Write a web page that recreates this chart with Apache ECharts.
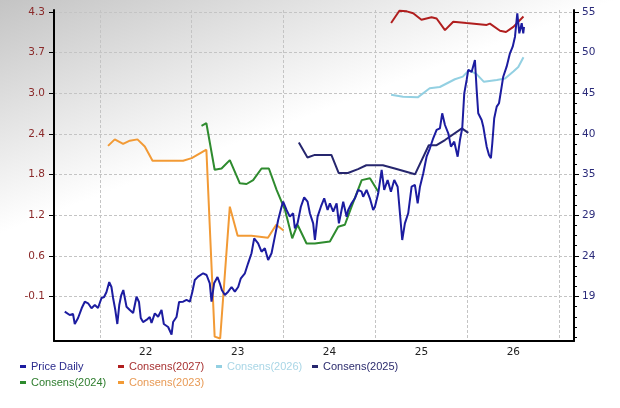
<!DOCTYPE html>
<html><head><meta charset="utf-8">
<script src="https://cdn.jsdelivr.net/npm/echarts@6/dist/echarts.min.js"></script>
<style>html,body{margin:0;padding:0;background:#fff}#c{width:620px;height:408px}</style>
</head><body><div id="c"></div>
<script>
// x axis: decimal years
const xTickYears = [2022, 2023, 2024, 2025, 2026, 2027];
const xLabelYears = [2022.5, 2023.5, 2024.5, 2025.5, 2026.5];
const xLabels = ['22', '23', '24', '25', '26'];
// left axis (EPS consensus)
const leftTickValues = [-0.1, 0.5286, 1.1571, 1.7857, 2.4143, 3.0429, 3.6714, 4.3];
const leftTickLabels = ['-0.1', '0.6', '1.2', '1.8', '2.4', '3.0', '3.7', '4.3'];
// right axis (price)
const rightTickValues = [19, 24.143, 29.286, 34.429, 39.571, 44.714, 49.857, 55];
const rightTickLabels = ['19', '24', '29', '35', '40', '45', '50', '55'];

const seriesNames = ['Price Daily', 'Consens(2027)', 'Consens(2026)', 'Consens(2025)', 'Consens(2024)', 'Consens(2023)'];

const priceDaily = [[2021.619,17.08],[2021.673,16.66],[2021.709,16.79],[2021.728,15.52],[2021.764,16.28],[2021.804,17.54],[2021.837,18.34],[2021.873,18.14],[2021.910,17.51],[2021.946,17.92],[2021.981,17.54],[2022.019,18.81],[2022.047,18.94],[2022.073,19.57],[2022.103,20.83],[2022.127,20.20],[2022.145,18.81],[2022.169,17.29],[2022.191,15.52],[2022.212,17.92],[2022.234,19.19],[2022.256,19.82],[2022.291,17.71],[2022.327,17.29],[2022.363,16.91],[2022.400,18.97],[2022.427,18.30],[2022.446,16.28],[2022.471,15.77],[2022.508,16.03],[2022.544,16.41],[2022.563,15.65],[2022.599,16.87],[2022.635,16.44],[2022.672,17.29],[2022.697,15.52],[2022.744,15.14],[2022.781,14.19],[2022.798,15.77],[2022.835,16.41],[2022.863,18.30],[2022.907,18.34],[2022.944,18.56],[2022.980,18.34],[2023.007,19.57],[2023.034,21.09],[2023.070,21.51],[2023.125,21.94],[2023.162,21.72],[2023.197,20.67],[2023.216,18.34],[2023.244,20.67],[2023.281,21.47],[2023.306,20.67],[2023.328,19.82],[2023.361,19.19],[2023.397,19.61],[2023.434,20.20],[2023.470,19.61],[2023.506,20.20],[2023.535,21.30],[2023.579,21.94],[2023.614,23.20],[2023.651,24.47],[2023.680,26.36],[2023.723,25.73],[2023.760,24.67],[2023.796,25.10],[2023.832,23.62],[2023.869,24.47],[2023.905,26.57],[2023.941,28.68],[2023.978,30.36],[2023.995,31.00],[2024.032,29.95],[2024.068,29.10],[2024.104,29.53],[2024.123,27.63],[2024.152,28.26],[2024.188,30.36],[2024.224,31.55],[2024.261,31.00],[2024.286,29.53],[2024.322,28.26],[2024.341,26.15],[2024.370,29.10],[2024.406,30.36],[2024.442,31.43],[2024.479,29.95],[2024.504,30.79],[2024.540,29.73],[2024.577,30.79],[2024.602,28.26],[2024.631,29.95],[2024.649,31.00],[2024.686,29.10],[2024.703,29.95],[2024.740,30.79],[2024.776,31.43],[2024.812,32.48],[2024.849,32.26],[2024.866,31.63],[2024.903,32.48],[2024.939,31.43],[2024.975,29.95],[2024.994,30.36],[2025.030,32.06],[2025.067,35.01],[2025.095,32.48],[2025.132,33.74],[2025.168,32.26],[2025.204,33.74],[2025.241,32.89],[2025.266,29.53],[2025.291,26.15],[2025.320,28.26],[2025.356,29.53],[2025.393,32.89],[2025.429,33.11],[2025.459,30.79],[2025.484,32.89],[2025.520,34.59],[2025.556,36.69],[2025.592,37.75],[2025.628,39.02],[2025.665,40.07],[2025.701,40.28],[2025.726,42.18],[2025.756,40.70],[2025.792,39.65],[2025.821,37.96],[2025.857,38.59],[2025.894,36.69],[2025.919,38.80],[2025.944,40.28],[2025.966,44.71],[2025.992,46.40],[2026.009,47.66],[2026.046,47.41],[2026.082,48.93],[2026.101,45.13],[2026.118,42.18],[2026.155,41.33],[2026.173,40.49],[2026.191,39.22],[2026.210,37.96],[2026.235,36.91],[2026.256,36.49],[2026.271,38.39],[2026.292,41.55],[2026.319,43.02],[2026.344,43.45],[2026.373,45.55],[2026.390,46.81],[2026.427,48.08],[2026.463,49.77],[2026.493,50.61],[2026.518,51.87],[2026.543,54.84],[2026.565,52.30],[2026.591,53.57],[2026.608,52.30],[2026.616,53.10]];

const consens2027 = [[2025.17,4.13],[2025.26,4.32],[2025.34,4.31],[2025.41,4.28],[2025.50,4.18],[2025.61,4.22],[2025.665,4.20],[2025.756,4.02],[2025.846,4.15],[2025.99,4.13],[2026.21,4.10],[2026.245,4.12],[2026.355,4.01],[2026.42,3.99],[2026.50,4.07],[2026.61,4.23]];
const consens2026 = [[2025.17,3.02],[2025.30,2.99],[2025.46,2.98],[2025.59,3.12],[2025.70,3.14],[2025.864,3.26],[2025.95,3.30],[2026.017,3.40],[2026.10,3.34],[2026.18,3.22],[2026.32,3.25],[2026.41,3.27],[2026.50,3.38],[2026.554,3.45],[2026.61,3.60]];
const consens2025 = [[2024.166,2.28],[2024.26,2.05],[2024.34,2.09],[2024.52,2.09],[2024.60,1.81],[2024.70,1.81],[2024.81,1.87],[2024.90,1.93],[2025.08,1.93],[2025.21,1.88],[2025.43,1.79],[2025.58,2.24],[2025.665,2.24],[2025.756,2.32],[2025.94,2.50],[2026.01,2.43]];
const consens2024 = [[2023.107,2.54],[2023.16,2.58],[2023.25,1.86],[2023.325,1.88],[2023.415,2.01],[2023.524,1.65],[2023.597,1.64],[2023.669,1.70],[2023.76,1.88],[2023.84,1.88],[2023.924,1.55],[2024.015,1.24],[2024.094,0.80],[2024.152,1.01],[2024.25,0.72],[2024.34,0.72],[2024.504,0.75],[2024.594,0.98],[2024.667,1.01],[2024.74,1.29],[2024.85,1.70],[2024.94,1.73],[2025.03,1.52]];
const consens2023 = [[2022.09,2.23],[2022.163,2.33],[2022.254,2.26],[2022.327,2.31],[2022.41,2.33],[2022.49,2.22],[2022.574,2.00],[2022.744,2.00],[2022.907,2.00],[2023.0,2.04],[2023.16,2.17],[2023.25,-0.72],[2023.31,-0.75],[2023.415,1.29],[2023.50,0.84],[2023.65,0.84],[2023.83,0.81],[2023.92,1.01],[2024.0,0.92]];

const colors = {
  price: '#1c1ca0', c2027: '#b01e1e', c2026: '#93d0e2', c2025: '#26266e', c2024: '#2e8b2e', c2023: '#f29a35'
};
const legendTextColors = ['#2a2a8c', '#a83232', '#a9d6e6', '#2c2c6e', '#2e7d2e', '#e89a55'];
// legend slot positions [left, top]
const legendSlots = [[20, 361], [118, 361], [216, 361], [312, 361], [20, 377], [118, 377]];

// minor ticks on the right axis (4 subdivisions per major step)
const rightMinor = [];
(function () {
  const step = (rightTickValues[1] - rightTickValues[0]) / 4;
  for (let k = 1; k <= 4; k++) rightMinor.push(rightTickValues[0] - k * step);
  for (let i = 0; i < rightTickValues.length - 1; i++) {
    for (let k = 1; k < 4; k++) rightMinor.push(rightTickValues[i] + k * (rightTickValues[i + 1] - rightTickValues[i]) / 4);
  }
})();

function lookup(vals, labels, v) {
  for (let i = 0; i < vals.length; i++) if (Math.abs(vals[i] - v) < 1e-6) return labels[i];
  return '';
}

const chart = echarts.init(document.getElementById('c'), null, { renderer: 'canvas' });
const lineSeries = (name, data, color, yIdx, z) => ({
  name, type: 'line', data, yAxisIndex: yIdx, showSymbol: false, symbol: 'none', z,
  lineStyle: { color, width: 2 }, itemStyle: { color }, animation: false
});

chart.setOption({
  animation: false,
  backgroundColor: new echarts.graphic.LinearGradient(0, 0, 0.25, 1, [
    { offset: 0, color: '#c4c4c4' }, { offset: 0.5, color: '#ffffff' }, { offset: 1, color: '#ffffff' }
  ]),
  grid: { left: 54, right: 46, top: 10, bottom: 67 },
  legend: seriesNames.map((n, i) => ({
    left: legendSlots[i][0], top: legendSlots[i][1], orient: 'horizontal', padding: 0,
    icon: 'rect', itemWidth: 6, itemHeight: 3, itemTextGap: 8,
    textStyle: { fontFamily: 'Liberation Sans', fontSize: 11, color: legendTextColors[i] },
    data: [n]
  })),
  xAxis: {
    type: 'value', min: 2021.502, max: 2027.16,
    axisLine: { show: true, onZero: false, lineStyle: { color: '#000', width: 2 } },
    axisTick: { show: false, customValues: xTickYears },
    axisLabel: {
      customValues: xLabelYears, color: '#222', fontFamily: 'DejaVu Sans', fontSize: 10.5, margin: 6,
      formatter: v => lookup(xLabelYears, xLabels, v)
    },
    splitLine: { show: true, lineStyle: { color: '#c4c4c4', type: [3, 2], width: 1 } }
  },
  yAxis: [
    {
      type: 'value', position: 'left', min: -0.788, max: 4.331,
      axisLine: { show: true, onZero: false, lineStyle: { color: '#000', width: 2 } },
      axisTick: { show: true, customValues: leftTickValues, length: 5, lineStyle: { color: '#000' } },
      axisLabel: {
        customValues: leftTickValues, color: '#8b2a2a', fontFamily: 'DejaVu Sans', fontSize: 10.5, margin: 9,
        formatter: v => lookup(leftTickValues, leftTickLabels, v)
      },
      splitLine: { show: true, lineStyle: { color: '#c4c4c4', type: [3, 2], width: 1 } }
    },
    {
      type: 'value', position: 'right', min: 13.37, max: 55.25,
      axisLine: { show: true, onZero: false, lineStyle: { color: '#000', width: 2 } },
      axisTick: { show: true, customValues: rightTickValues, length: 5, lineStyle: { color: '#000' } },
      axisLabel: {
        customValues: rightTickValues, color: '#2b2b7a', fontFamily: 'DejaVu Sans', fontSize: 10.5, margin: 8,
        formatter: v => lookup(rightTickValues, rightTickLabels, v)
      },
      splitLine: { show: false }
    },
    {
      type: 'value', position: 'right', min: 13.37, max: 55.25,
      axisLine: { show: false, onZero: false },
      axisTick: { show: true, customValues: rightMinor, length: 3, lineStyle: { color: '#000' } },
      axisLabel: { show: false },
      splitLine: { show: false }
    }
  ],
  series: [
    lineSeries(seriesNames[5], consens2023, colors.c2023, 0, 2),
    lineSeries(seriesNames[4], consens2024, colors.c2024, 0, 2),
    lineSeries(seriesNames[3], consens2025, colors.c2025, 0, 3),
    lineSeries(seriesNames[2], consens2026, colors.c2026, 0, 2),
    lineSeries(seriesNames[1], consens2027, colors.c2027, 0, 2),
    lineSeries(seriesNames[0], priceDaily, colors.price, 1, 4)
  ]
});
</script>
</body></html>
